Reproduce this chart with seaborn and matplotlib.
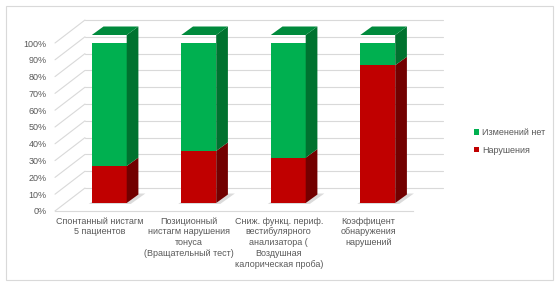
import matplotlib
matplotlib.use("Agg")
import matplotlib.pyplot as plt
import seaborn as sns
import numpy as np
from matplotlib.transforms import ScaledTranslation, IdentityTransform
from matplotlib.patches import Polygon, Rectangle
from matplotlib.lines import Line2D

categories = [
    "Спонтанный нистагм\n5 пациентов",
    "Позиционный\nнистагм нарушения\nтонуса\n(Вращательный тест)",
    "Сниж. функц. периф.\nвестибулярного\nанализатора (\nВоздушная\nкалорическая проба)",
    "Коэффицент\nобнаружения\nнарушений",
]
violations = [22, 31, 27, 82]
no_change = [78, 69, 73, 18]
series_names = ["Изменений нет", "Нарушения"]
y_ticks = [0, 10, 20, 30, 40, 50, 60, 70, 80, 90, 100]
y_tick_labels = [f"{t}%" for t in y_ticks]

GREEN, GREEN_SIDE, GREEN_TOP = "#00B050", "#00722F", "#008A3C"
RED, RED_SIDE = "#C00000", "#720000"
TXT = "#595959"
GRID = "#D9D9D9"

sns.set_theme(style="white")
plt.rcParams["font.family"] = ["Liberation Sans", "DejaVu Sans"]

W, H, DPI = 559, 286, 100
fig = plt.figure(figsize=(W / DPI, H / DPI), dpi=DPI)
fig.patch.set_facecolor("white")

# front plane of the chart: x 55..413 px, y 211..43 px (from top)
ax = fig.add_axes([55 / W, (H - 211) / H, 358 / W, 168 / H])
ax.set_facecolor("none")

totals = [v + n for v, n in zip(violations, no_change)]
sns.barplot(x=list(range(4)), y=totals, color=GREEN, saturation=1, width=0.39,
            ax=ax, label=series_names[0], native_scale=True)
sns.barplot(x=list(range(4)), y=violations, color=RED, saturation=1, width=0.39,
            ax=ax, label=series_names[1], native_scale=True)

ax.set_xlim(-0.5, 3.5)
ax.set_ylim(0, 100)

for s in ["left", "right", "top"]:
    ax.spines[s].set_visible(False)
ax.spines["bottom"].set_color(GRID)
ax.spines["bottom"].set_linewidth(0.8)

ax.set_yticks(y_ticks)
ax.set_yticklabels(y_tick_labels, fontsize=6.5, color=TXT)
ax.tick_params(axis="y", length=0, pad=6)
ax.set_xticks(range(4))
ax.set_xticklabels(categories, fontsize=6.5, color=TXT, linespacing=1.25)
ax.tick_params(axis="x", which="major", length=0, pad=4)
ax.set_xticks([-0.5, 0.5, 1.5, 2.5, 3.5], minor=True)
ax.tick_params(axis="x", which="minor", length=2.5, color=GRID, width=0.8, direction="out")
ax.set_xlabel("")
ax.set_ylabel("")

# 3D geometry (pixels)
WALL_DX, WALL_DY = 30, 23     # back wall offset
BAR_DX, BAR_DY = 9.5, 8       # bar front plane offset
SIDE_DX, SIDE_DY = 11.7, 8.5  # bar depth

ident = IdentityTransform()
td = ax.transData
xl, xr = -0.5, 3.5
for t in y_ticks:
    (px0, py), = td.transform([(xl, t)])
    (px1, _), = td.transform([(xr, t)])
    ax.add_line(Line2D([px0, px0 + WALL_DX], [py, py + WALL_DY], color=GRID, lw=0.8,
                       transform=ident, clip_on=False, zorder=0.3))
    ax.add_line(Line2D([px0 + WALL_DX, px1 + WALL_DX], [py + WALL_DY, py + WALL_DY],
                       color=GRID, lw=0.8, transform=ident, clip_on=False, zorder=0.3))

off = ScaledTranslation(BAR_DX / DPI, BAR_DY / DPI, fig.dpi_scale_trans)
bar_tr = td + off
green_bars = ax.patches[:4]
red_bars = ax.patches[4:8]
for p in list(green_bars) + list(red_bars):
    p.set_transform(bar_tr)
    p.set_edgecolor("none")
    p.set_zorder(1)

for g, r in zip(green_bars, red_bars):
    x0 = g.get_x(); x1 = x0 + g.get_width()
    top = g.get_height(); mid = r.get_height()
    (ax0, ay0), (ax1, ay1), (_, aym), (_, ayt) = bar_tr.transform(
        [(x0, 0), (x1, 0), (x1, mid), (x1, top)])
    # shadow on floor
    sh = [(ax0 - 3, ay0 - 1), (ax1 + 4, ay0 - 1), (ax1 + SIDE_DX + 7, ay0 + SIDE_DY + 1),
          (ax0 + SIDE_DX, ay0 + SIDE_DY + 1)]
    ax.add_patch(Polygon(sh, closed=True, facecolor="#9a9a9a", alpha=0.35, edgecolor="none",
                         transform=ident, clip_on=False, zorder=0.8))
    # side faces
    ax.add_patch(Polygon([(ax1, ay0), (ax1 + SIDE_DX, ay0 + SIDE_DY),
                          (ax1 + SIDE_DX, aym + SIDE_DY), (ax1, aym)],
                         closed=True, facecolor=RED_SIDE, edgecolor="none",
                         transform=ident, clip_on=False, zorder=1.1))
    ax.add_patch(Polygon([(ax1, aym), (ax1 + SIDE_DX, aym + SIDE_DY),
                          (ax1 + SIDE_DX, ayt + SIDE_DY), (ax1, ayt)],
                         closed=True, facecolor=GREEN_SIDE, edgecolor="none",
                         transform=ident, clip_on=False, zorder=1.1))
    # top face
    ax.add_patch(Polygon([(ax0, ayt), (ax1, ayt), (ax1 + SIDE_DX, ayt + SIDE_DY),
                          (ax0 + SIDE_DX, ayt + SIDE_DY)],
                         closed=True, facecolor=GREEN_TOP, edgecolor="none",
                         transform=ident, clip_on=False, zorder=1.1))

handles, labels = ax.get_legend_handles_labels()
leg = ax.legend(handles, labels, loc="center left",
                bbox_to_anchor=(474 / W, 1 - 141.5 / H), bbox_transform=fig.transFigure,
                frameon=False, fontsize=6.5, handlelength=0.6, handleheight=0.6,
                handletextpad=0.3, labelspacing=0.9, borderpad=0, borderaxespad=0)
for txt in leg.get_texts():
    txt.set_color(TXT)

fig.add_artist(Rectangle((6 / W, (H - 280) / H), (553 - 6) / W, (280 - 6) / H,
                         transform=fig.transFigure, fill=False, edgecolor=GRID, lw=0.8))

fig.savefig("out.png", dpi=DPI)
